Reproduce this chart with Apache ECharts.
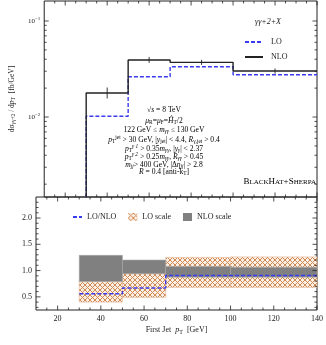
<!DOCTYPE html>
<html><head><meta charset="utf-8">
<script src="https://cdn.jsdelivr.net/npm/echarts@6/dist/echarts.min.js"></script>
<style>html,body{margin:0;padding:0;background:#fff}#c{width:326px;height:345px}</style>
</head><body><div id="c"></div>
<script>
// ---------- data ----------
const binEdges = [30, 50, 70, 100, 140];
const nloValues = [0.0178, 0.0393, 0.0371, 0.0301];
const nloErrLow = [0.0156, 0.0366, 0.0349, 0.0283];
const nloErrHigh = [0.0203, 0.0422, 0.0394, 0.0320];
const loValues = [0.0102, 0.0263, 0.0334, 0.0276];
const ratioValues = [0.56, 0.67, 0.905, 0.905];
const loScaleLow = [0.40, 0.49, 0.68, 0.68];
const loScaleHigh = [0.79, 0.94, 1.25, 1.26];
const nloScaleLow = [0.79, 0.94, 0.875, 0.875];
const nloScaleHigh = [1.29, 1.20, 1.08, 1.065];
const xTickLabels = [20, 40, 60, 80, 100, 120, 140];
const xMinorTicks = [15, 25, 30, 35, 45, 50, 55, 65, 70, 75, 85, 90, 95, 105, 110, 115, 125, 130, 135];
const logTickLabels = [0.01, 0.1];
const logMinorTicks = [0.002, 0.003, 0.004, 0.005, 0.006, 0.007, 0.008, 0.009, 0.02, 0.03, 0.04, 0.05, 0.06, 0.07, 0.08, 0.09];
const ratioTickLabels = [0.5, 1.0, 1.5, 2.0];
const ratioMinorTicks = [0.3, 0.4, 0.6, 0.7, 0.8, 0.9, 1.1, 1.2, 1.3, 1.4, 1.6, 1.7, 1.8, 1.9, 2.1, 2.2, 2.3];

const X_MIN = 10, X_MAX = 140;
const LOG_MIN = 0.00147, LOG_MAX = 0.1615;
const R_MIN = 0.25, R_MAX = 2.4;

const FONT = 'Liberation Serif';
const BLUE = '#3a3af0';

function makeHatch() {
  const c = document.createElement('canvas');
  c.width = 5; c.height = 5;
  const g = c.getContext('2d');
  g.fillStyle = '#fbefe4'; g.fillRect(0, 0, 5, 5);
  g.strokeStyle = '#d08a55'; g.lineWidth = 1;
  g.beginPath(); g.moveTo(0, 0); g.lineTo(5, 5); g.moveTo(5, 0); g.lineTo(0, 5); g.stroke();
  return c;
}
const hatch = { image: makeHatch(), repeat: 'repeat' };

function stepData(vals, dropTo) {
  const d = [];
  if (dropTo !== undefined) d.push([binEdges[0], dropTo]);
  vals.forEach((v, i) => d.push([binEdges[i], v]));
  d.push([binEdges[binEdges.length - 1], vals[vals.length - 1]]);
  return d;
}
function bandData(lo, hi) {
  return lo.map((l, i) => [binEdges[i], binEdges[i + 1], l, hi[i]]);
}
function bandRender(fill, stroke) {
  return function (p, api) {
    const a = api.coord([api.value(0), api.value(3)]);
    const b = api.coord([api.value(1), api.value(2)]);
    return { type: 'rect', shape: { x: a[0], y: a[1], width: b[0] - a[0], height: b[1] - a[1] },
      style: { fill: fill, stroke: stroke, lineWidth: stroke ? 0.6 : 0 } };
  };
}
function tickRender(xMaj, xMin, yMaj, yMin, refX, refY) {
  return function (p, api) {
    const cs = p.coordSys;
    const L = cs.x, R = cs.x + cs.width, T = cs.y, B = cs.y + cs.height;
    const ch = [];
    const st = { stroke: '#222', lineWidth: 0.8 };
    function add(x1, y1, x2, y2) { ch.push({ type: 'line', shape: { x1, y1, x2, y2 }, style: st }); }
    xMaj.forEach(v => { const x = api.coord([v, refY])[0]; add(x, B, x, B - 4.5); add(x, T, x, T + 4.5); });
    xMin.forEach(v => { const x = api.coord([v, refY])[0]; add(x, B, x, B - 2.5); add(x, T, x, T + 2.5); });
    yMaj.forEach(v => { const y = api.coord([refX, v])[1]; add(L, y, L + 4.5, y); add(R, y, R - 4.5, y); });
    yMin.forEach(v => { const y = api.coord([refX, v])[1]; add(L, y, L + 2.5, y); add(R, y, R - 2.5, y); });
    return { type: 'group', children: ch };
  };
}

const chart = echarts.init(document.getElementById('c'), null, { renderer: 'canvas' });
const rich7 = {
  n: { fontFamily: FONT, fontSize: 7.6, color: '#222' },
  i: { fontFamily: FONT, fontSize: 7.6, fontStyle: 'italic', color: '#222' },
  b: { fontFamily: FONT, fontSize: 5.4, color: '#222', padding: [4, 0, 0, 0] },
  p: { fontFamily: FONT, fontSize: 5.4, color: '#222', padding: [0, 0, 4, 0] },
  bi: { fontFamily: FONT, fontSize: 5.4, fontStyle: 'italic', color: '#222', padding: [4, 0, 0, 0] },
  pi: { fontFamily: FONT, fontSize: 5.4, fontStyle: 'italic', color: '#222', padding: [0, 0, 4, 0] }
};
const annotLines = [
  ['{n|√}{i|s}{n| = 8 TeV}', 110],
  ['{i|μ}{b|R}{n|=}{i|μ}{b|F}{n|=}{i|Ĥ}{b|T}{n|/2}', 121],
  ['{n|122 GeV ≤ }{i|m}{bi|γγ}{n| ≤ 130 GeV}', 130],
  ['{i|p}{b|T}{p|jet}{n| > 30 GeV, |}{i|y}{b|jet}{n|| < 4.4, }{i|R}{b|γ,jet}{n| > 0.4}', 140],
  ['{i|p}{b|T}{pi|γ 1}{n| > 0.35}{i|m}{bi|γγ}{n|, |}{i|y}{bi|γ}{n|| < 2.37}', 149],
  ['{i|p}{b|T}{pi|γ 2}{n| > 0.25}{i|m}{bi|γγ}{n|, }{i|R}{bi|γγ}{n| > 0.45}', 157],
  ['{i|m}{bi|jj}{n|> 400 GeV, |Δ}{i|η}{bi|jj}{n|| > 2.8}', 165],
  ['{i|R}{n| = 0.4 [anti-k}{b|T}{n|]}', 172]
];

const graphics = annotLines.map(([t, y]) => ({
  type: 'text', x: 164, y: y, z: 50,
  style: { text: t, rich: rich7, align: 'center', verticalAlign: 'middle' }
}));
graphics.push({
  type: 'text', x: 255, y: 22, z: 50,
  style: { text: 'γγ+2+X', fontFamily: FONT, fontSize: 8, fontStyle: 'italic', fill: '#222', align: 'left', verticalAlign: 'middle' }
});
graphics.push({
  type: 'text', x: 316, y: 182, z: 50,
  style: {
    text: '{a|B}{s|LACK}{a|H}{s|AT}{a|+S}{s|HERPA}', align: 'right', verticalAlign: 'middle',
    rich: { a: { fontFamily: FONT, fontSize: 9, color: '#222' }, s: { fontFamily: FONT, fontSize: 7, color: '#222' } }
  }
});

const hideSym = { opacity: 0 };
const option = {
  animation: false,
  backgroundColor: '#fff',
  textStyle: { fontFamily: FONT },
  grid: [
    { left: 36, top: 1, width: 281, height: 196, show: true, borderColor: '#222', borderWidth: 1, backgroundColor: 'transparent' },
    { left: 36, top: 197, width: 281, height: 113, show: true, borderColor: '#222', borderWidth: 1, backgroundColor: 'transparent' }
  ],
  xAxis: [
    { type: 'value', gridIndex: 0, min: X_MIN, max: X_MAX, axisLabel: { show: false }, axisTick: { show: false }, axisLine: { show: false }, splitLine: { show: false } },
    { type: 'value', gridIndex: 1, min: X_MIN, max: X_MAX, interval: 10,
      axisLine: { show: false }, axisTick: { show: false }, splitLine: { show: false },
      axisLabel: { margin: 5, fontFamily: FONT, fontSize: 8, color: '#222', showMinLabel: false,
        formatter: v => (xTickLabels.indexOf(v) >= 0 ? String(v) : '') },
      name: 'First Jet  {i|p}{b|T}  [GeV]', nameLocation: 'middle', nameGap: 15,
      nameTextStyle: { fontFamily: FONT, fontSize: 8, color: '#222',
        rich: { i: { fontFamily: FONT, fontSize: 8, fontStyle: 'italic', color: '#222' }, b: { fontFamily: FONT, fontSize: 6, color: '#222', padding: [4, 0, 0, 0] } } }
    }
  ],
  yAxis: [
    { type: 'log', gridIndex: 0, min: LOG_MIN, max: LOG_MAX,
      axisLine: { show: false }, axisTick: { show: false }, splitLine: { show: false }, minorTick: { show: false },
      axisLabel: { margin: 4, fontFamily: FONT, fontSize: 7, color: '#222', showMinLabel: false, showMaxLabel: false,
        formatter: v => {
          const e = Math.round(Math.log10(v));
          if (Math.abs(Math.log10(v) - e) > 0.01) return '';
          if (!logTickLabels.some(t => Math.abs(t - v) / t < 0.01)) return '';
          return '10{s|−' + (-e) + '}';
        },
        rich: { s: { fontFamily: FONT, fontSize: 5, color: '#222', padding: [0, 0, 5, 0] } } },
      name: 'dσ{b|γγ+2} / d{i|p}{b|T}  [fb/GeV]', nameLocation: 'middle', nameGap: 22,
      nameTextStyle: { fontFamily: FONT, fontSize: 7.5, color: '#222',
        rich: { i: { fontFamily: FONT, fontSize: 7.5, fontStyle: 'italic', color: '#222' }, b: { fontFamily: FONT, fontSize: 5.5, color: '#222', padding: [4, 0, 0, 0] } } }
    },
    { type: 'value', gridIndex: 1, min: R_MIN, max: R_MAX, interval: 0.25,
      axisLine: { show: false }, axisTick: { show: false }, splitLine: { show: false },
      axisLabel: { margin: 4, fontFamily: FONT, fontSize: 8, color: '#222', showMinLabel: false, showMaxLabel: false,
        formatter: v => (ratioTickLabels.some(t => Math.abs(t - v) < 1e-6) ? v.toFixed(1) : '') }
    }
  ],
  legend: [
    { data: [{ name: 'LO', itemStyle: hideSym }, { name: 'NLO', itemStyle: hideSym }],
      orient: 'vertical', left: 239, top: 33, itemWidth: 18, itemHeight: 8, itemGap: 7,
      textStyle: { fontFamily: FONT, fontSize: 8, color: '#222', padding: [0, 0, 0, 3] }, selectedMode: false },
    { data: [{ name: 'LO/NLO', itemStyle: hideSym }, { name: 'LO scale', icon: 'rect', itemStyle: { color: hatch } }, { name: 'NLO scale', icon: 'rect' }],
      orient: 'horizontal', left: 67, top: 208, itemWidth: 9, itemHeight: 8, itemGap: 12,
      textStyle: { fontFamily: FONT, fontSize: 8, color: '#222' }, selectedMode: false }
  ],
  graphic: graphics,
  series: [
    { name: 'LO', type: 'line', xAxisIndex: 0, yAxisIndex: 0, step: 'end', showSymbol: false, symbol: 'none',
      data: stepData(loValues, LOG_MIN), lineStyle: { color: BLUE, width: 1.4, type: [4, 2] }, itemStyle: { color: BLUE }, z: 3 },
    { name: 'NLO', type: 'line', xAxisIndex: 0, yAxisIndex: 0, step: 'end', showSymbol: false, symbol: 'none',
      data: stepData(nloValues, LOG_MIN), lineStyle: { color: '#222', width: 1.4 }, itemStyle: { color: '#222' }, z: 4 },
    { name: 'NLO error', type: 'custom', xAxisIndex: 0, yAxisIndex: 0, z: 5,
      data: nloValues.map((v, i) => [(binEdges[i] + binEdges[i + 1]) / 2, nloErrLow[i], nloErrHigh[i]]),
      encode: { x: 0, y: [1, 2] },
      renderItem: (p, api) => {
        const a = api.coord([api.value(0), api.value(1)]);
        const b = api.coord([api.value(0), api.value(2)]);
        return { type: 'line', shape: { x1: a[0], y1: a[1], x2: b[0], y2: b[1] }, style: { stroke: '#222', lineWidth: 0.9 } };
      } },
    { name: 'LO scale', type: 'custom', xAxisIndex: 1, yAxisIndex: 1, z: 2,
      data: bandData(loScaleLow, loScaleHigh), encode: { x: [0, 1], y: [2, 3] },
      itemStyle: { color: hatch },
      renderItem: bandRender(hatch, '#e2b48e') },
    { name: 'NLO scale', type: 'custom', xAxisIndex: 1, yAxisIndex: 1, z: 3,
      data: bandData(nloScaleLow, nloScaleHigh), encode: { x: [0, 1], y: [2, 3] },
      itemStyle: { color: '#808080' },
      renderItem: bandRender('#808080', '#a8a8a8') },
    { name: 'LO/NLO', type: 'line', xAxisIndex: 1, yAxisIndex: 1, step: 'end', showSymbol: false, symbol: 'none',
      data: stepData(ratioValues), lineStyle: { color: BLUE, width: 1.4, type: [4, 2] }, itemStyle: { color: BLUE }, z: 6 },
    { name: 'ticks top', type: 'custom', xAxisIndex: 0, yAxisIndex: 0, z: 10, silent: true,
      data: [[75, 0.01]], renderItem: tickRender(xTickLabels, xMinorTicks, logTickLabels, logMinorTicks, 75, 0.01) },
    { name: 'ticks bottom', type: 'custom', xAxisIndex: 1, yAxisIndex: 1, z: 10, silent: true,
      data: [[75, 1]], renderItem: tickRender(xTickLabels, xMinorTicks, ratioTickLabels, ratioMinorTicks, 75, 1) }
  ]
};
chart.setOption(option);
</script>
</body></html>
